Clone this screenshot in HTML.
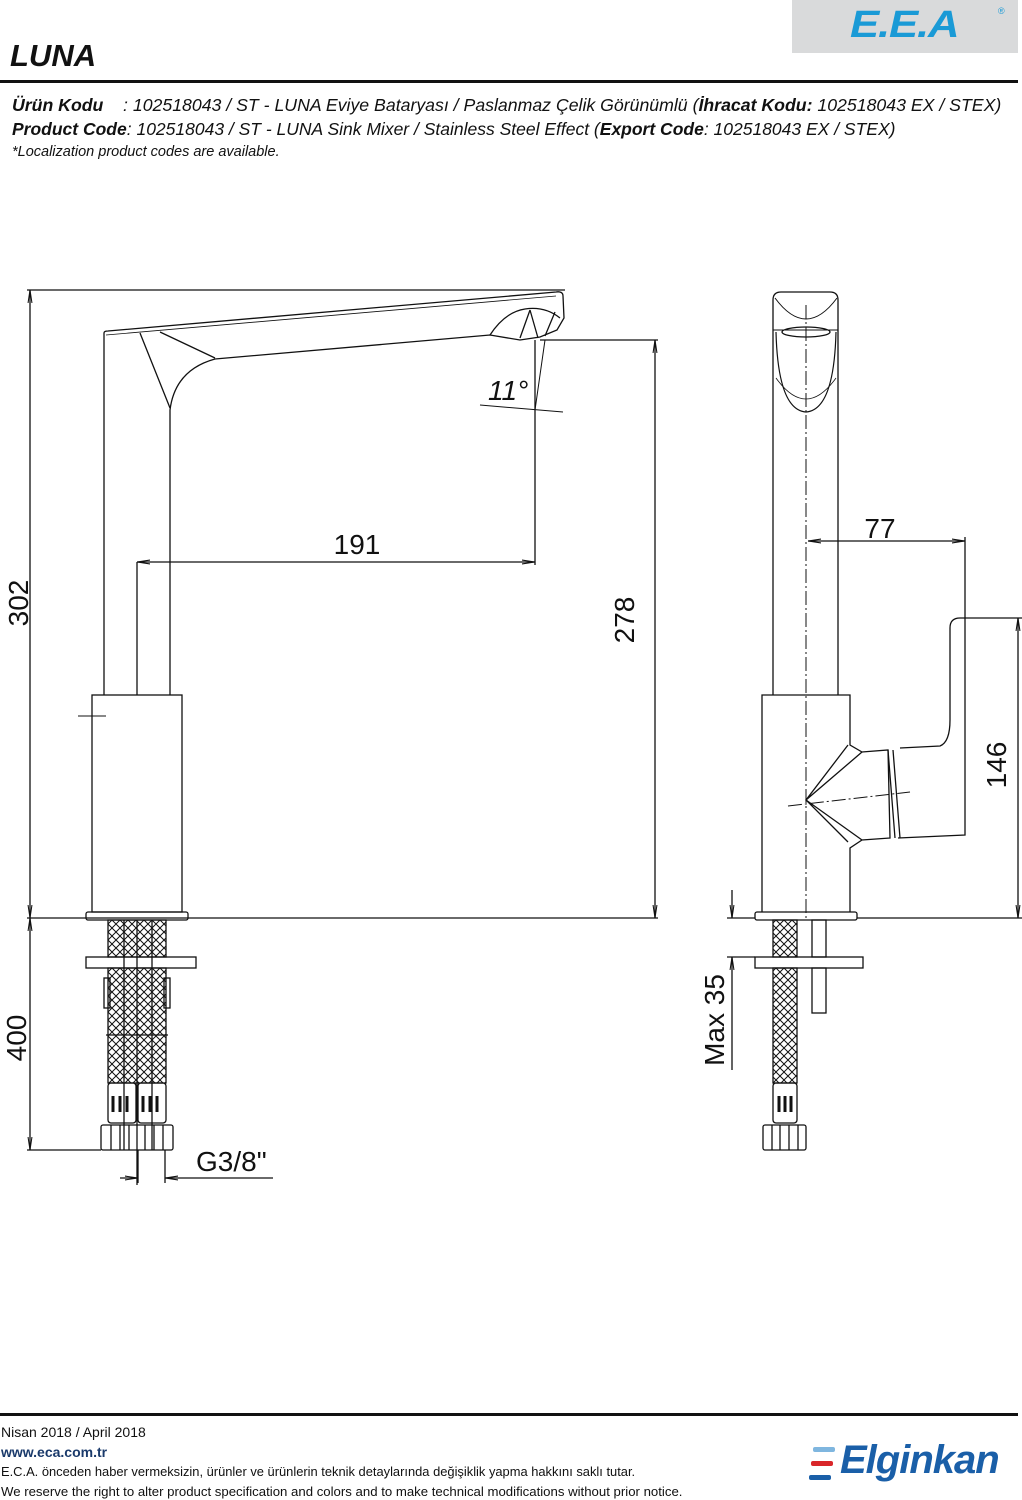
<!DOCTYPE html>
<html><head><meta charset="utf-8"><style>
html,body{margin:0;padding:0;background:#fff;}
body{width:1022px;height:1500px;position:relative;overflow:hidden;font-family:"Liberation Sans",sans-serif;color:#111;}
.t{position:absolute;white-space:nowrap;font-family:"Liberation Sans",sans-serif;}
</style></head><body>
<div style="position:absolute;left:792px;top:0;width:226px;height:53px;background:#d9dadb;"></div>
<div class="t" style="left:850px;top:4px;font-size:38px;font-weight:bold;font-style:italic;color:#1a9ad6;letter-spacing:-1px;transform:scaleX(1.15);transform-origin:left top;">E.E.A</div>
<div class="t" style="left:998px;top:6px;font-size:9px;color:#1a9ad6;">®</div>
<div class="t" style="left:10px;top:38px;font-size:31px;font-weight:bold;font-style:italic;">LUNA</div>
<div style="position:absolute;left:0;top:80px;width:1018px;height:3px;background:#111;"></div>
<div class="t" style="left:12px;top:95px;font-size:17.7px;font-style:italic;"><b>Ürün Kodu</b>&nbsp;&nbsp;&nbsp;&nbsp;: 102518043 / ST - LUNA Eviye Bataryası / Paslanmaz Çelik Görünümlü (<b>İhracat Kodu:</b> 102518043 EX / STEX)</div>
<div class="t" style="left:12px;top:119px;font-size:17.5px;font-style:italic;"><b>Product Code</b>: 102518043 / ST - LUNA Sink Mixer / Stainless Steel Effect (<b>Export Code</b>: 102518043 EX / STEX)</div>
<div class="t" style="left:12px;top:144px;font-size:14.5px;font-style:italic;">*Localization product codes are available.</div>

<svg width="1022" height="1500" style="position:absolute;left:0;top:0" xmlns="http://www.w3.org/2000/svg">
<defs>
<pattern id="h" width="8" height="8" patternUnits="userSpaceOnUse"><path d="M0 0L8 8M8 0L0 8" stroke="#111" stroke-width="1"/></pattern>
<marker id="a" markerWidth="10" markerHeight="6" refX="10" refY="3" orient="auto-start-reverse"><path d="M0 1.5L10 3L0 4.5" fill="none" stroke="#111" stroke-width="0.8"/></marker>
</defs>
<g fill="none" stroke="#111" stroke-width="1.3">
<!-- LEFT VIEW -->
<line x1="27" y1="290" x2="565" y2="290"/>
<line x1="27" y1="918" x2="658" y2="918"/>
<line x1="30" y1="290" x2="30" y2="918" marker-start="url(#a)" marker-end="url(#a)"/>
<path d="M104 695V333Q104 331 108 331L556 292Q563 291 563 296L564 318L557 330L540 337L520 340L490 335L215 359Q175 370 170 410V695"/>
<path d="M106 335L556 296" stroke-width="0.8"/>
<path d="M140 333L170 408M160 332L215 358"/>
<path d="M490 335Q505 312 525 309Q545 306 560 318M530 310L520 338M530 310L538 338M555 312L545 336"/>
<rect x="92" y="695" width="90" height="217"/>
<path d="M78 716H106M92 708V724" stroke-width="1"/>
<rect x="86" y="912" width="102" height="8" rx="2"/>
<line x1="137" y1="562" x2="137" y2="695"/>
<line x1="137" y1="562" x2="535" y2="562" marker-start="url(#a)" marker-end="url(#a)"/>
<line x1="535" y1="340" x2="535" y2="565"/>
<line x1="540" y1="340" x2="658" y2="340"/>
<line x1="655" y1="340" x2="655" y2="918" marker-start="url(#a)" marker-end="url(#a)"/>
<path d="M480 405L563 412M535 410L545 340" stroke-width="1"/>
<!-- hoses left -->
<rect x="108" y="920" width="58" height="37" fill="url(#h)"/>
<rect x="108" y="968" width="58" height="115" fill="url(#h)"/>
<line x1="137" y1="920" x2="137" y2="1185"/>
<line x1="124" y1="920" x2="124" y2="1150"/><line x1="152" y1="920" x2="152" y2="1150"/>
<rect x="86" y="957" width="110" height="11"/>
<rect x="104" y="978" width="6" height="30"/><rect x="164" y="978" width="6" height="30"/>
<line x1="106" y1="1035" x2="168" y2="1035"/>
<rect x="108" y="1083" width="28" height="40" rx="3"/><rect x="138" y="1083" width="28" height="40" rx="3"/>
<path d="M113 1096v16M120 1096v16M127 1096v16M143 1096v16M150 1096v16M157 1096v16" stroke-width="3"/>
<rect x="101" y="1125" width="72" height="25" rx="2"/>
<path d="M111 1125v25M120 1125v25M129 1125v25M145 1125v25M154 1125v25M163 1125v25"/>
<line x1="30" y1="918" x2="30" y2="1150" marker-start="url(#a)" marker-end="url(#a)"/>
<line x1="27" y1="1150" x2="101" y2="1150"/>
<line x1="165" y1="1150" x2="165" y2="1183"/><line x1="138" y1="1150" x2="138" y2="1183"/>
<line x1="120" y1="1178" x2="138" y2="1178" marker-end="url(#a)"/>
<line x1="273" y1="1178" x2="165" y2="1178" marker-end="url(#a)"/>
<!-- RIGHT VIEW -->
<path d="M773 695V300Q773 292 781 292H830Q838 292 838 300V695"/>
<path d="M773 330H838" stroke-width="1"/>
<path d="M775 298Q806 340 837 298" stroke-width="1"/>
<path d="M776 332Q778 410 806 412Q834 410 836 332" stroke-width="1.2"/>
<path d="M776 378Q806 420 836 378" stroke-width="0.8"/>
<ellipse cx="806" cy="332" rx="24" ry="5"/>
<path d="M806 305V918" stroke-dasharray="14 3 2 3" stroke-width="1"/>
<path d="M762 912V695H850V745L862 752L888 750L890 838L862 840L850 848V912"/>
<path d="M848 745L806 800L848 842M862 752L806 800L862 840M888 750L895 838M893 750L900 838M900 748L940 746Q950 742 950 720V628Q950 618 960 618H965V835L898 838"/>
<path d="M788 806L910 792" stroke-dasharray="14 3 2 3" stroke-width="1"/>
<line x1="808" y1="541" x2="965" y2="541" marker-start="url(#a)" marker-end="url(#a)"/>
<line x1="965" y1="537" x2="965" y2="618"/>
<line x1="965" y1="618" x2="1022" y2="618"/>
<line x1="857" y1="918" x2="1022" y2="918"/>
<line x1="1018" y1="618" x2="1018" y2="918" marker-start="url(#a)" marker-end="url(#a)"/>
<rect x="755" y="912" width="102" height="8" rx="2"/>
<rect x="755" y="957" width="108" height="11"/>
<rect x="773" y="920" width="24" height="37" fill="url(#h)"/>
<rect x="773" y="968" width="24" height="115" fill="url(#h)"/>
<rect x="773" y="1083" width="24" height="40" rx="3"/>
<path d="M779 1096v16M785 1096v16M791 1096v16" stroke-width="3"/>
<rect x="763" y="1125" width="43" height="25" rx="2"/>
<path d="M772 1125v25M780 1125v25M789 1125v25M798 1125v25"/>
<rect x="812" y="920" width="14" height="37"/><rect x="812" y="968" width="14" height="45"/>
<line x1="727" y1="918" x2="755" y2="918"/>
<line x1="727" y1="957" x2="755" y2="957"/>
<line x1="732" y1="890" x2="732" y2="918" marker-end="url(#a)"/>
<line x1="732" y1="1070" x2="732" y2="957" marker-end="url(#a)"/>
</g>
<g font-family="Liberation Sans, sans-serif" font-size="28" fill="#111">
<text x="357" y="554" text-anchor="middle">191</text>
<text x="880" y="538" text-anchor="middle">77</text>
<text x="196" y="1171">G3/8"</text>
<text x="488" y="400" font-style="italic">11°</text>
<text transform="translate(28,603) rotate(-90)" text-anchor="middle">302</text>
<text transform="translate(634,620) rotate(-90)" text-anchor="middle">278</text>
<text transform="translate(26,1038) rotate(-90)" text-anchor="middle">400</text>
<text transform="translate(1006,765) rotate(-90)" text-anchor="middle">146</text>
<text transform="translate(724,1020) rotate(-90)" text-anchor="middle">Max 35</text>
</g>
</svg>

<div style="position:absolute;left:0;top:1413px;width:1018px;height:3px;background:#111;"></div>
<div class="t" style="left:1px;top:1424px;font-size:14px;">Nisan 2018 / April 2018</div>
<div class="t" style="left:1px;top:1444px;font-size:14px;font-weight:bold;color:#1a3a6b;">www.eca.com.tr</div>
<div class="t" style="left:1px;top:1464px;font-size:12.9px;">E.C.A. önceden haber vermeksizin, ürünler ve ürünlerin teknik detaylarında değişiklik yapma hakkını saklı tutar.</div>
<div class="t" style="left:1px;top:1484px;font-size:13.2px;">We reserve the right to alter product specification and colors and to make technical modifications without prior notice.</div>
<div style="position:absolute;left:813px;top:1447px;width:22px;height:5px;background:#7fb6df;border-radius:2px;"></div>
<div style="position:absolute;left:811px;top:1461px;width:22px;height:5px;background:#d9262a;border-radius:2px;"></div>
<div style="position:absolute;left:809px;top:1475px;width:22px;height:5px;background:#1a5fa8;border-radius:2px;"></div>
<div class="t" style="left:840px;top:1438px;font-size:40px;font-weight:bold;font-style:italic;color:#1a5fa8;letter-spacing:-1px;">Elginkan</div>
</body></html>
